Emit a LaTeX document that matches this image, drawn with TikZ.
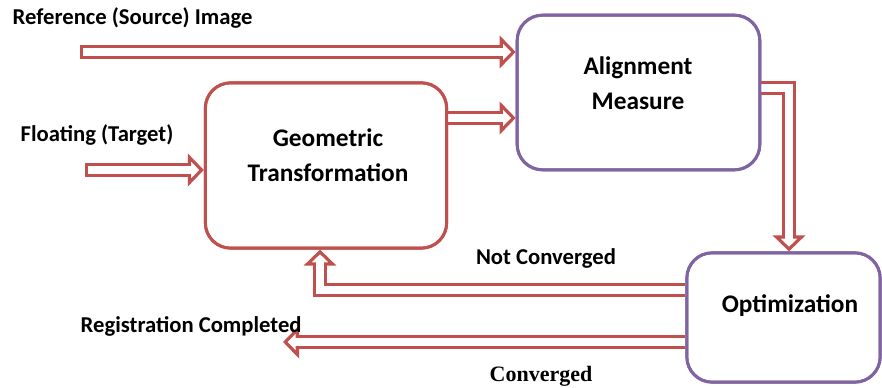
\documentclass[tikz,border=0pt]{standalone}
\usepackage{fontspec}
\setmainfont{Carlito}
\newfontfamily\serifbf{Liberation Serif}
\usetikzlibrary{arrows.meta}

\definecolor{boxred}{HTML}{C0504D}
\definecolor{boxpurple}{HTML}{8064A2}

\begin{document}
\begin{tikzpicture}[x=0.75pt,y=-0.75pt,line join=miter,
  font=\bfseries\fontsize{17}{19}\selectfont]
  \tikzstyle{blk}=[draw,line width=2.2pt,rounded corners=19pt,fill=white]
  \tikzstyle{dblarr}=[draw=white,line width=6pt,
    -{Triangle[length=6pt,width=12pt]},shorten >=3.5pt,
    preaction={draw=boxred,line width=11pt,
      -{Triangle[length=12pt,width=24pt]},shorten >=0pt,shorten <=0pt}]
  \useasboundingbox (0,0) rectangle (882,388);

  \coordinate (RefIn) at (80,52);
  \coordinate (FloIn) at (85,170);
  \coordinate (RegOut) at (283,342);

  \node[blk,draw=boxred,minimum width=181pt,minimum height=124pt]
        (GT) at (326,165.5) {};
  \node[blk,draw=boxpurple,minimum width=182pt,minimum height=116pt]
        (AM) at (638.5,92.5) {};
  \node[blk,draw=boxpurple,minimum width=145pt,minimum height=97pt]
        (Opt) at (783.5,317.5) {};

  % arrows
  \draw[dblarr,shorten <=2.5pt] (RefIn) -- (RefIn -| AM.west);
  \draw[dblarr,shorten <=2.5pt] (FloIn) -- (FloIn -| GT.west);
  \draw[dblarr] (GT.east |- 0,118) -- (AM.west |- 0,118);
  \draw[dblarr] (AM.east |- 0,88) -| (Opt.north -| 789,0);
  \draw[dblarr] (Opt.west |- 0,290) -| (GT.south -| 320,0);
  \draw[dblarr] (Opt.west |- RegOut) -- (RegOut);

  % boxes again on top of arrow tails
  \node[blk,draw=boxred,minimum width=181pt,minimum height=124pt,fill=none]
        at (GT) {};
  \node[blk,draw=boxpurple,minimum width=182pt,minimum height=116pt,fill=none]
        at (AM) {};
  \node[blk,draw=boxpurple,minimum width=145pt,minimum height=97pt,fill=none]
        at (Opt) {};

  % texts
  \node[align=center,font=\bfseries\fontsize{19}{26}\selectfont]
        (GTtxt) at (328,155) {Geometric\\Transformation};
  \node[align=center,font=\bfseries\fontsize{19}{26}\selectfont]
        (AMtxt) at (638,83) {Alignment\\Measure};
  \node[font=\bfseries\fontsize{19}{21}\selectfont]
        (Opttxt) at (790,306) {Optimization};
  \node[anchor=west] (Ref) at (8,18) {Reference (Source) Image};
  \node[anchor=west] (Flo) at (16,135) {Floating (Target)};
  \node (NC) at (546,258) {Not Converged};
  \node[anchor=west] (Reg) at (76,326) {Registration Completed};
  \node[font=\serifbf\bfseries\fontsize{16.5}{18}\selectfont]
        (Conv) at (541,376) {Converged};
\end{tikzpicture}
\end{document}
